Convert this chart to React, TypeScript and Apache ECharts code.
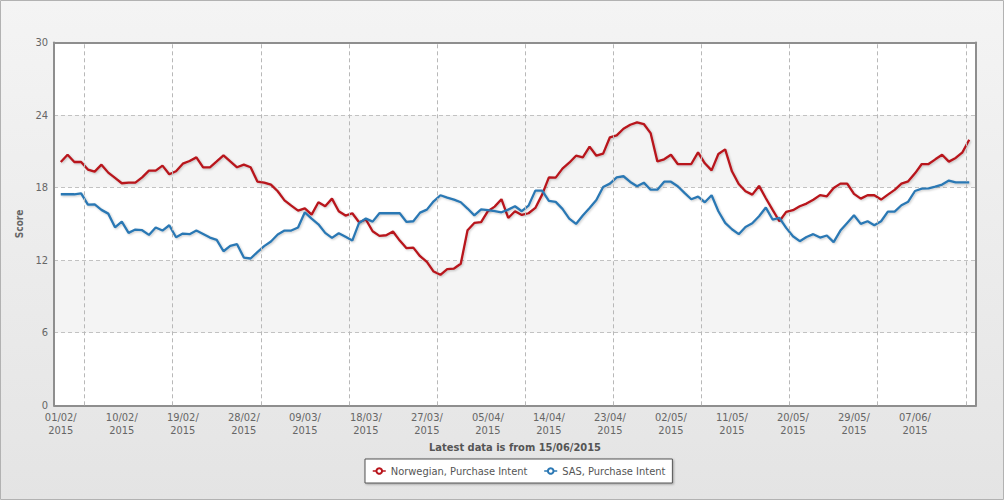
import React, { useEffect, useRef } from "react";
import * as echarts from "echarts";

const FONT = "'DejaVu Sans Condensed', 'Liberation Sans', sans-serif";

const seriesNames = ["Norwegian, Purchase Intent", "SAS, Purchase Intent"];

// daily values from 01/02/2015 (day 0) to 15/06/2015 (day 134)
const norwegian = [
  20.12, 20.72, 20.12, 20.12, 19.49, 19.32, 19.9, 19.24, 18.8, 18.36,
  18.41, 18.41, 18.85, 19.4, 19.4, 19.82, 19.1, 19.35, 19.98, 20.2,
  20.5, 19.68, 19.68, 20.17, 20.67, 20.17, 19.68, 19.9, 19.68, 18.5,
  18.41, 18.25, 17.7, 16.95, 16.51, 16.1, 16.29, 15.77, 16.79, 16.46,
  17.09, 16.05, 15.69, 15.88, 15.14, 15.36, 14.39, 14.01, 14.06, 14.37,
  13.62, 12.99, 13.04, 12.33, 11.86, 11.06, 10.79, 11.26, 11.31, 11.7,
  14.48, 15.08, 15.14, 16.05, 16.43, 17.04, 15.49, 16.05, 15.74, 15.88,
  16.32, 17.42, 18.85, 18.83, 19.57, 20.06, 20.64, 20.5, 21.39, 20.64,
  20.81, 22.16, 22.32, 22.87, 23.2, 23.39, 23.26, 22.51, 20.17, 20.34,
  20.72, 19.95, 19.95, 19.95, 20.92, 20.01, 19.43, 20.78, 21.16, 19.35,
  18.3, 17.7, 17.42, 18.14, 17.12, 16.16, 15.22, 15.99, 16.13, 16.46,
  16.68, 17.0, 17.38, 17.28, 17.97, 18.33, 18.33, 17.48, 17.09, 17.37,
  17.37, 17.01, 17.42, 17.81, 18.33, 18.52, 19.18, 19.95, 19.95, 20.34,
  20.72, 20.15, 20.45, 20.92, 21.96,
];

const sas = [
  17.45, 17.45, 17.45, 17.53, 16.6, 16.62, 16.16, 15.85, 14.72, 15.19,
  14.26, 14.53, 14.48, 14.09, 14.7, 14.45, 14.89, 13.9, 14.2, 14.15,
  14.45, 14.17, 13.87, 13.68, 12.74, 13.18, 13.32, 12.22, 12.14, 12.66,
  13.16, 13.54, 14.12, 14.45, 14.45, 14.7, 15.96, 15.44, 14.97, 14.26,
  13.84, 14.23, 13.93, 13.62, 15.08, 15.44, 15.19, 15.88, 15.88, 15.88,
  15.88, 15.16, 15.22, 15.93, 16.18, 16.87, 17.37, 17.17, 17.01, 16.79,
  16.27, 15.71, 16.21, 16.13, 16.05, 15.96, 16.18, 16.46, 16.05, 16.51,
  17.75, 17.75, 16.9, 16.82, 16.24, 15.44, 15.0, 15.69, 16.32, 16.98,
  18.05, 18.33, 18.85, 18.94, 18.47, 18.11, 18.41, 17.83, 17.83, 18.49,
  18.49, 18.11, 17.56, 17.04, 17.26, 16.79, 17.37, 16.05, 15.08, 14.56,
  14.15, 14.75, 15.05, 15.63, 16.35, 15.36, 15.49, 14.67, 13.98, 13.57,
  13.92, 14.15, 13.87, 14.04, 13.49, 14.45, 15.08, 15.71, 15.0, 15.22,
  14.89, 15.22, 16.02, 16.02, 16.54, 16.84, 17.72, 17.91, 17.94, 18.08,
  18.25, 18.58, 18.44, 18.44, 18.44,
];

const tickDays = [0, 9, 18, 27, 36, 45, 54, 63, 72, 81, 90, 99, 108, 117, 126];
const tickLabels = [
  "01/02/\n2015", "10/02/\n2015", "19/02/\n2015", "28/02/\n2015", "09/03/\n2015",
  "18/03/\n2015", "27/03/\n2015", "05/04/\n2015", "14/04/\n2015", "23/04/\n2015",
  "02/05/\n2015", "11/05/\n2015", "20/05/\n2015", "29/05/\n2015", "07/06/\n2015",
];
const gridLineDays = [3.5, 16.5, 29.5, 42.5, 55.5, 68.5, 81.5, 94.5, 107.5, 120.5, 133.5];

const yTicks = [0, 6, 12, 18, 24, 30];
const xTitle = "Latest data is from 15/06/2015";
const yTitle = "Score";

export default function App() {
  const ref = useRef<HTMLDivElement>(null);

  useEffect(() => {
    document.body.style.margin = "0";
    if (!ref.current) return;
    const chart = echarts.init(ref.current, undefined, { renderer: "svg" });
    const frame = { color: "#8e8e8e", width: 2 };
    const labelFor = (v: number) => {
      const i = tickDays.indexOf(Math.round(v));
      return i >= 0 ? tickLabels[i] : "";
    };
    const lineShadow = {
      shadowColor: "rgba(0,0,0,0.22)",
      shadowBlur: 2,
      shadowOffsetX: 1,
      shadowOffsetY: 1,
    };
    chart.setOption({
      animation: false,
      textStyle: { fontFamily: FONT },
      graphic: {
        elements: [
          {
            type: "rect",
            z: -100,
            silent: true,
            shape: { x: 0.5, y: 0.5, width: 1003, height: 499 },
            style: {
              fill: {
                type: "linear",
                x: 0,
                y: 0,
                x2: 0,
                y2: 1,
                colorStops: [
                  { offset: 0, color: "#f4f4f4" },
                  { offset: 1, color: "#e4e4e4" },
                ],
              },
              stroke: "#b2b2b2",
              lineWidth: 1,
            },
          },
        ],
      },
      grid: {
        left: 54,
        right: 28,
        top: 42.5,
        bottom: 94.7,
        show: true,
        backgroundColor: "#ffffff",
        borderWidth: 0,
      },
      legend: {
        data: seriesNames,
        left: 365,
        top: 459,
        padding: [5, 7, 5, 7],
        itemGap: 16,
        itemWidth: 13,
        itemHeight: 7,
        lineStyle: { width: 1.5 },
        itemStyle: { borderWidth: 1.6 },
        backgroundColor: "#ffffff",
        borderColor: "#555555",
        borderWidth: 1,
        shadowColor: "rgba(0,0,0,0.3)",
        shadowBlur: 2,
        shadowOffsetX: 1,
        shadowOffsetY: 1,
        textStyle: { color: "#555", fontSize: 11, fontFamily: FONT, lineHeight: 14 },
      },
      xAxis: [
        {
          type: "value",
          min: -1,
          max: 135,
          position: "bottom",
          axisLine: { show: true, onZero: false, lineStyle: frame },
          axisTick: { show: false },
          splitLine: { show: false },
          axisLabel: {
            customValues: tickDays,
            formatter: labelFor,
            color: "#666",
            fontSize: 11,
            lineHeight: 13,
            margin: 6,
            fontFamily: FONT,
          },
          name: xTitle,
          nameLocation: "middle",
          nameGap: 33,
          nameTextStyle: { fontWeight: "bold", color: "#555", fontSize: 11, fontFamily: FONT },
        },
        {
          type: "value",
          min: -1,
          max: 135,
          position: "top",
          axisLine: { show: true, onZero: false, lineStyle: frame },
          axisTick: { show: false },
          axisLabel: { show: false },
          splitLine: { show: false },
        },
      ],
      yAxis: [
        {
          type: "value",
          min: yTicks[0],
          max: yTicks[yTicks.length - 1],
          interval: 6,
          axisLine: { show: true, onZero: false, lineStyle: frame },
          axisTick: { show: false },
          axisLabel: {
            color: "#666",
            fontSize: 11,
            margin: 6,
            fontFamily: FONT,
            padding: [3, 0, 0, 0],
          },
          splitLine: { show: true, lineStyle: { type: [4, 3], color: "#c2c2c2", width: 1 } },
          splitArea: { show: true, areaStyle: { color: ["#ffffff", "#f4f4f4"] } },
          name: yTitle,
          nameLocation: "middle",
          nameGap: 28,
          nameRotate: 90,
          nameTextStyle: { fontWeight: "bold", color: "#666", fontSize: 10, fontFamily: FONT },
        },
        {
          type: "value",
          min: yTicks[0],
          max: yTicks[yTicks.length - 1],
          interval: 6,
          position: "right",
          axisLine: { show: true, onZero: false, lineStyle: frame },
          axisTick: { show: false },
          axisLabel: { show: false },
          splitLine: { show: false },
        },
      ],
      series: [
        {
          type: "line",
          name: "__grid",
          data: [],
          z: 1,
          silent: true,
          markLine: {
            silent: true,
            symbol: "none",
            label: { show: false },
            lineStyle: { type: [4, 3], color: "#b8b8b8", width: 1 },
            data: gridLineDays.map((d) => ({ xAxis: d })),
          },
        },
        {
          type: "line",
          name: seriesNames[0],
          data: norwegian.map((v, i) => [i, v]),
          showSymbol: false,
          symbol: "emptyCircle",
          z: 3,
          color: "#b8141b",
          lineStyle: { color: "#b8141b", width: 2.3, ...lineShadow },
        },
        {
          type: "line",
          name: seriesNames[1],
          data: sas.map((v, i) => [i, v]),
          showSymbol: false,
          symbol: "emptyCircle",
          z: 3,
          color: "#2b78b4",
          lineStyle: { color: "#2b78b4", width: 2.3, ...lineShadow },
        },
      ],
    });
    return () => chart.dispose();
  }, []);

  return (
    <div
      ref={ref}
      style={{ position: "absolute", left: 0, top: 0, width: 1004, height: 500 }}
    />
  );
}
